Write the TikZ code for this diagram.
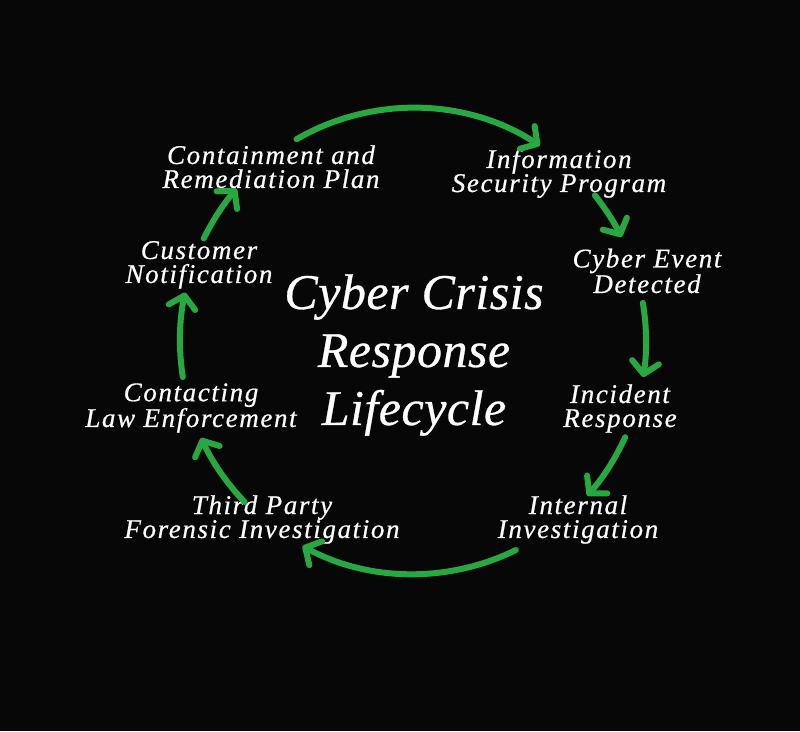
\documentclass[tikz,border=0pt]{standalone}
\usepackage{fontspec}
\setmainfont{Liberation Serif}
\newfontfamily\labelfont[LetterSpace=6,FakeBold=0.6]{Liberation Serif}
\newfontfamily\titlefont[LetterSpace=1,FakeBold=0.6]{Liberation Serif}
\usetikzlibrary{arrows.meta,calc}
\definecolor{cyclegreen}{RGB}{40,168,64}
\definecolor{bgblack}{RGB}{7,7,7}
\tikzset{
  lbl/.style={text=white, align=center, anchor=base, inner sep=0pt,
    font=\labelfont\itshape\fontsize{27}{24}\selectfont},
  ttl/.style={text=white, align=center, anchor=base, inner sep=0pt,
    font=\titlefont\itshape\fontsize{50}{58}\selectfont},
  cyc/.style={draw=cyclegreen, line width=6pt, line cap=round,
    -{Straight Barb[length=12pt,width=27pt,line width=6pt,round]}}
}
\begin{document}
\begin{tikzpicture}[x=1pt,y=1pt]
\fill[bgblack] (0,0) rectangle (800,731);
\useasboundingbox (0,0) rectangle (800,731);
\coordinate (c) at (413,390);
% labels (base anchor = baseline of last line)
\node[lbl] (cont) at (271,543) {Containment and\\Remediation Plan};
\node[lbl] (info) at (559,539) {Information\\Security Program};
\node[lbl] (event) at (647,438) {Cyber Event\\Detected};
\node[lbl] (incid) at (620,304) {Incident\\Response};
\node[lbl] (intern) at (578,193) {Internal\\Investigation};
\node[lbl] (third) at (262,193) {Third Party\\Forensic Investigation};
\node[lbl] (law) at (191,304) {Contacting\\Law Enforcement};
\node[lbl] (cust) at (199,448) {Customer\\Notification};
\node[ttl] (title) at (414,306) {Cyber Crisis\\Response\\Lifecycle};
% arcs
\coordinate (a1) at ($(c)+(120:233)$);
\coordinate (a2) at ($(c)+(38.7:233)$);
\coordinate (a3) at ($(c)+(9.4:233)$);
\coordinate (a4) at ($(c)+(-24.4:233)$);
\coordinate (a5) at ($(c)+(-63.8:233)$);
\coordinate (a6) at ($(c)+(223.7:233)$);
\coordinate (a7) at ($(c)+(188.9:233)$);
\coordinate (a8) at ($(c)+(153.9:233)$);
\draw[cyc] (a1) arc[start angle=120, end angle=57, radius=233];
\draw[cyc] (a2) arc[start angle=38.7, end angle=26.5, radius=233];
\draw[cyc] (a3) arc[start angle=9.4, end angle=-8.9, radius=233];
\draw[cyc] (a4) arc[start angle=-24.4, end angle=-41.6, radius=233];
\draw[cyc] (a5) arc[start angle=-63.8, end angle=-118.3, radius=233];
\draw[cyc] (a6) arc[start angle=223.7, end angle=204.6, radius=233];
\draw[cyc] (a7) arc[start angle=188.9, end angle=168, radius=233];
\draw[cyc] (a8) arc[start angle=153.9, end angle=139.2, radius=233];
\end{tikzpicture}
\end{document}
